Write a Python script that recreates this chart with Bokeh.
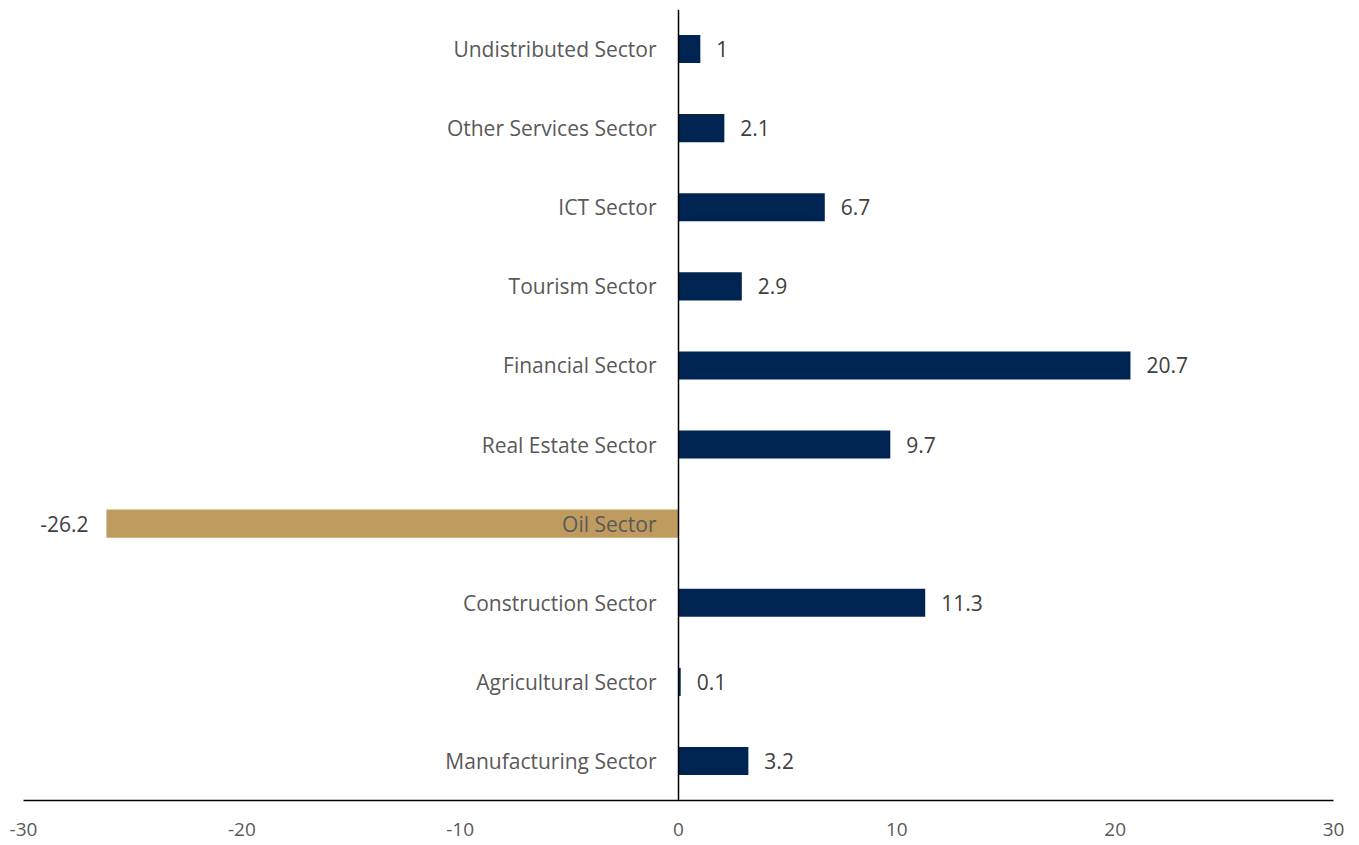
from bokeh.plotting import figure
from bokeh.models import ColumnDataSource, Span, FixedTicker, CustomJSTickFormatter
from bokeh.core.properties import value
from bokeh.embed import file_html
from bokeh.resources import INLINE

categories = ["Manufacturing Sector", "Agricultural Sector", "Construction Sector", "Oil Sector",
              "Real Estate Sector", "Financial Sector", "Tourism Sector", "ICT Sector",
              "Other Services Sector", "Undistributed Sector"]
values = [3.2, 0.1, 11.3, -26.2, 9.7, 20.7, 2.9, 6.7, 2.1, 1]
labels = ["3.2", "0.1", "11.3", "-26.2", "9.7", "20.7", "2.9", "6.7", "2.1", "1"]
x_ticks = [-30, -20, -10, 0, 10, 20, 30]

NAVY = "#002451"
GOLD = "#BF9B60"
FONT = "Open Sans"

idx = list(range(len(categories)))
colors = [GOLD if v < 0 else NAVY for v in values]
src = ColumnDataSource(dict(y=idx, v=values, cat=categories, lab=labels, color=colors,
                            zero=[0] * len(idx)))

p = figure(width=1351, height=845, x_range=(-30, 30), y_range=(-0.5, 9.5),
           output_backend="svg", toolbar_location=None,
           min_border_left=23, min_border_right=18, min_border_top=9, min_border_bottom=45)
p.outline_line_color = None
p.xgrid.visible = False
p.ygrid.visible = False
p.yaxis.visible = False

p.hbar(y="y", left="zero", right="v", height=0.355, color="color", line_color=None, source=src)

p.add_layout(Span(location=0, dimension="height", line_color="black", line_width=1.5))

# category labels
p.text(x="zero", y="y", text="cat", source=src, x_offset=-22, text_align="right",
       text_baseline="middle", text_font=value(FONT), text_font_size="21px",
       text_color="#595959")

# value labels
pos = ColumnDataSource(dict(x=[v for v in values if v >= 0], y=[i for i, v in zip(idx, values) if v >= 0],
                            t=[l for l, v in zip(labels, values) if v >= 0]))
neg = ColumnDataSource(dict(x=[v for v in values if v < 0], y=[i for i, v in zip(idx, values) if v < 0],
                            t=[l for l, v in zip(labels, values) if v < 0]))
p.text(x="x", y="y", text="t", source=pos, x_offset=16, text_align="left", text_baseline="middle",
       text_font=value(FONT), text_font_size="21px", text_color="#404040")
p.text(x="x", y="y", text="t", source=neg, x_offset=-18, text_align="right", text_baseline="middle",
       text_font=value(FONT), text_font_size="21px", text_color="#404040")

ax = p.xaxis[0]
ax.ticker = FixedTicker(ticks=x_ticks)
ax.formatter = CustomJSTickFormatter(code="return tick.toString();")
ax.axis_line_color = "black"
ax.axis_line_width = 1.5
ax.major_tick_line_color = None
ax.minor_tick_line_color = None
ax.major_label_standoff = 16
ax.major_label_text_font = FONT
ax.major_label_text_font_size = "19px"
ax.major_label_text_color = "#595959"

open("out.html", "w").write(file_html(p, INLINE))
